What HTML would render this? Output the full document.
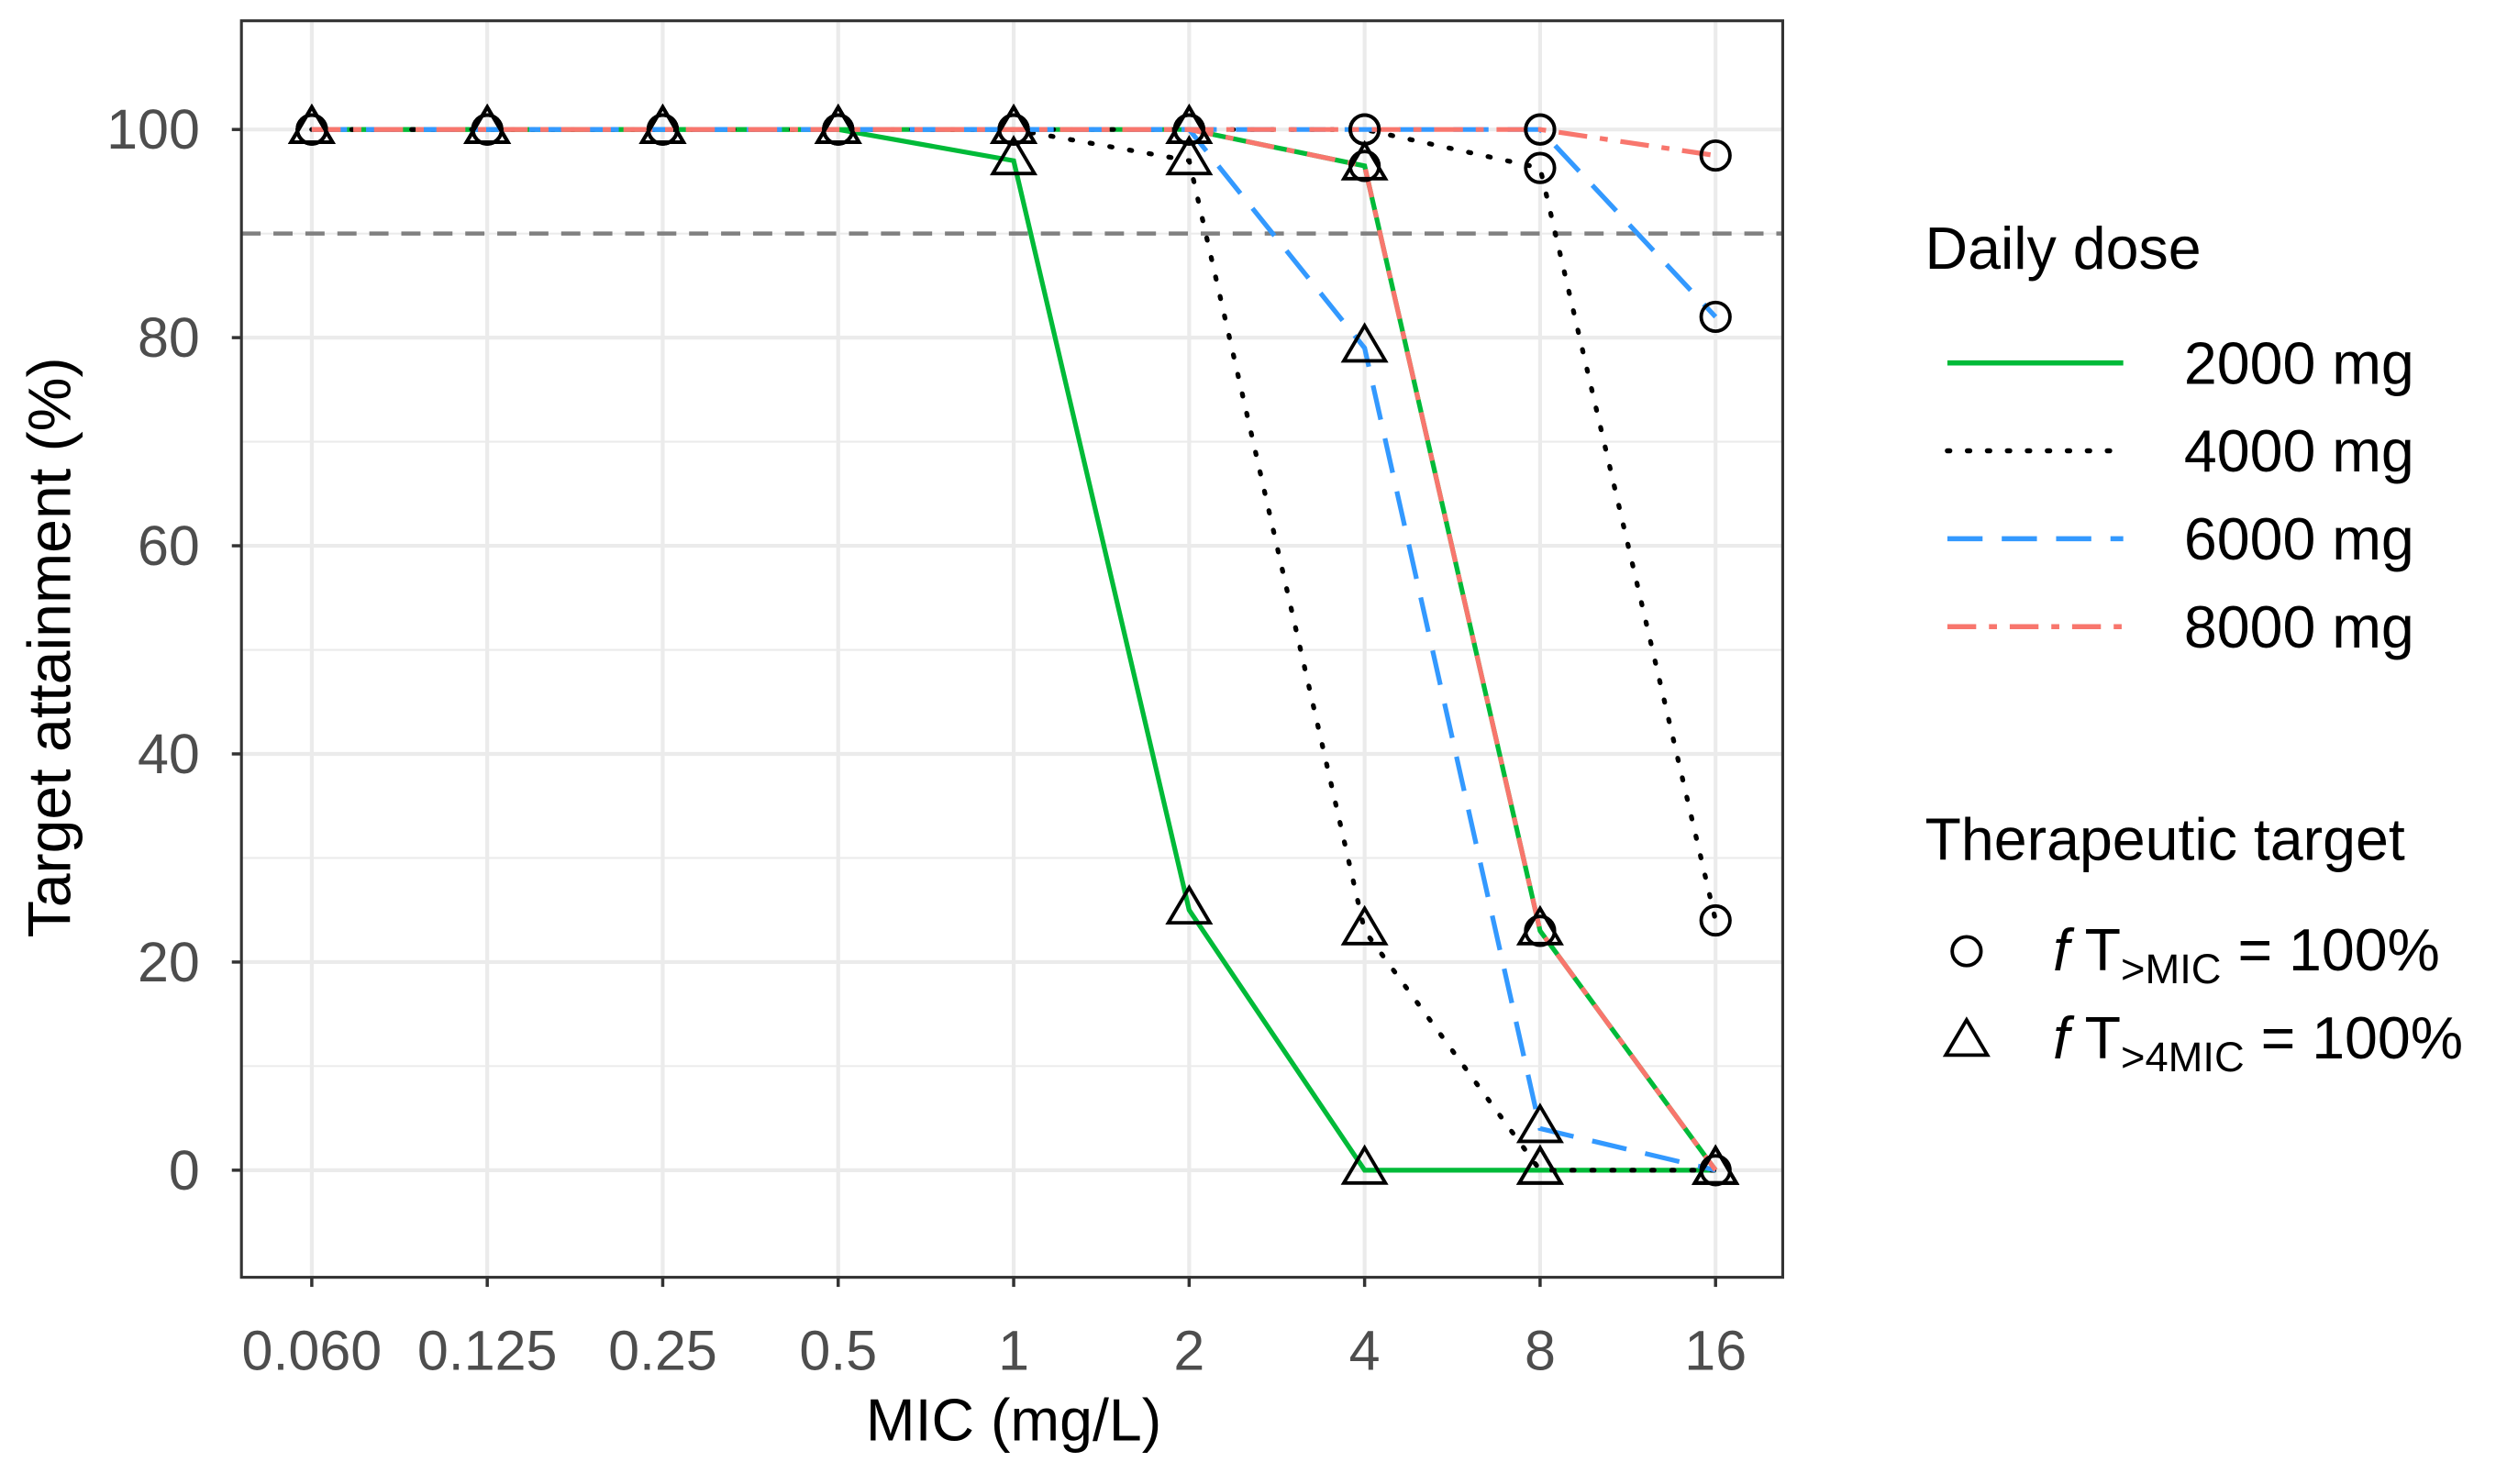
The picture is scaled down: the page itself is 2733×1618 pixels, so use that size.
<!DOCTYPE html>
<html><head><meta charset="utf-8"><style>
html,body{margin:0;padding:0;background:#fff;}
svg{display:block;font-family:"Liberation Sans",Arial,sans-serif;}
</style></head><body>
<svg id="chart" width="2733" height="1618" viewBox="0 0 1568 928.3" xmlns="http://www.w3.org/2000/svg">
<g id="grid"></g>
<g id="series"></g>
<g id="axes"></g>
<text x="0" y="0" transform="translate(44,405) rotate(-90)" text-anchor="middle" font-size="38" fill="#000">Target attainment (%)</text>
<text x="634" y="901" text-anchor="middle" font-size="37" fill="#000">MIC (mg/L)</text>
<g>
<text x="1204" y="168" font-size="37" fill="#000">Daily dose</text>
<line x1="1218" y1="227" x2="1328" y2="227" stroke="#00BA38" stroke-width="3.2"/>
<text x="1366" y="240" font-size="37">2000 mg</text>
<line x1="1218" y1="282" x2="1328" y2="282" stroke="#000" stroke-width="3.2" stroke-dasharray="1.5 11" stroke-linecap="round"/>
<text x="1366" y="295" font-size="37">4000 mg</text>
<line x1="1218" y1="337" x2="1328" y2="337" stroke="#3399FF" stroke-width="3.2" stroke-dasharray="22 12"/>
<text x="1366" y="350" font-size="37">6000 mg</text>
<line x1="1218" y1="392" x2="1328" y2="392" stroke="#F8766D" stroke-width="3.2" stroke-dasharray="18 8 5 8"/>
<text x="1366" y="405" font-size="37">8000 mg</text>
</g>
<g>
<text x="1204" y="538" font-size="37" fill="#000">Therapeutic target</text>
<circle cx="1230" cy="595" r="9" fill="none" stroke="#000" stroke-width="2.2"/>
<text x="1284" y="607" font-size="37"><tspan font-style="italic">f</tspan> T<tspan font-size="26" dy="8">&gt;MIC</tspan><tspan dy="-8"> = 100%</tspan></text>
<path d="M1230,638 L1243,660 L1217,660 Z" fill="none" stroke="#000" stroke-width="2.2"/>
<text x="1284" y="662" font-size="37"><tspan font-style="italic">f</tspan> T<tspan font-size="26" dy="8">&gt;4MIC</tspan><tspan dy="-8"> = 100%</tspan></text>
</g>
</svg>
<script>
const categories = ["0.060","0.125","0.25","0.5","1","2","4","8","16"];
const yTicks = [0,20,40,60,80,100];
const yMinor = [10,30,50,70,90];
const threshold = 90;
const circ2000 = [100,100,100,100,100,100,96.5,23,0];
const tri2000  = [100,100,100,100,97,25,0,0,0];
const circ4000 = [100,100,100,100,100,100,100,96.3,24];
const tri4000  = [100,100,100,100,100,97,23,0,0];
const circ6000 = [100,100,100,100,100,100,100,100,82];
const tri6000  = [100,100,100,100,100,100,79,4,0];
const circ8000 = [100,100,100,100,100,100,100,100,97.5];
const tri8000  = [100,100,100,100,100,100,96.5,23,0];

const NS="http://www.w3.org/2000/svg";
const L=151,R=1115,T=13,B=799;
const x=i=>195+i*109.75;
const y=v=>732-(v/100)*651;
function mk(tag,attrs,parent){const e=document.createElementNS(NS,tag);for(const k in attrs)e.setAttribute(k,attrs[k]);parent.appendChild(e);return e;}
const grid=document.getElementById('grid'),ser=document.getElementById('series'),ax=document.getElementById('axes');
for(const v of yMinor){const e=mk('line',{x1:L,x2:R,y1:y(v),y2:y(v),stroke:'#EBEBEB','stroke-width':1.2},grid);

}
for(const v of yTicks){const e=mk('line',{x1:L,x2:R,y1:y(v),y2:y(v),stroke:'#EBEBEB','stroke-width':2.4},grid);


const t=mk('text',{x:L-26,y:y(v)+12,'text-anchor':'end','font-size':35,fill:'#4D4D4D'},ax);t.textContent=v;


const k=mk('line',{x1:L-6,x2:L,y1:y(v),y2:y(v),stroke:'#333','stroke-width':2},ax);

}
categories.forEach((c,i)=>{const e=mk('line',{x1:x(i),x2:x(i),y1:T,y2:B,stroke:'#EBEBEB','stroke-width':2.4},grid);


const t=mk('text',{x:x(i),y:B+58,'text-anchor':'middle','font-size':35,fill:'#4D4D4D'},ax);t.textContent=c;


const k=mk('line',{x1:x(i),x2:x(i),y1:B,y2:B+6,stroke:'#333','stroke-width':2},ax);

});
const th=mk('line',{x1:L,x2:R,y1:y(threshold),y2:y(threshold),stroke:'#808080','stroke-width':2.6,'stroke-dasharray':'12 8'},grid);


const fr=mk('rect',{x:L,y:T,width:R-L,height:B-T,fill:'none',stroke:'#333','stroke-width':1.8},ax);


const styles={
 g:{stroke:'#00BA38','stroke-dasharray':'none'},
 k:{stroke:'#000','stroke-dasharray':'1.5 11','stroke-linecap':'round'},
 b:{stroke:'#3399FF','stroke-dasharray':'22 12'},
 r:{stroke:'#F8766D','stroke-dasharray':'18 8 5 8'}};
const lines=[[circ2000,'g','line-2000-mic'],[tri2000,'g','line-2000-4mic'],[circ4000,'k','line-4000-mic'],[tri4000,'k','line-4000-4mic'],[circ6000,'b','line-6000-mic'],[tri6000,'b','line-6000-4mic'],[circ8000,'r','line-8000-mic'],[tri8000,'r','line-8000-4mic']];
for(const [d,s,n] of lines){const p=mk('polyline',Object.assign({points:d.map((v,i)=>x(i)+','+y(v)).join(' '),fill:'none','stroke-width':3},styles[s]),ser);

}
const circs=[circ2000,circ4000,circ6000,circ8000],tris=[tri2000,tri4000,tri6000,tri8000];
for(const d of circs)d.forEach((v,i)=>{const c=mk('circle',{cx:x(i),cy:y(v),r:9,fill:'none',stroke:'#000','stroke-width':2.2},ser);

});
for(const d of tris)d.forEach((v,i)=>{const cx=x(i),cy=y(v);const p=mk('path',{d:`M${cx},${cy-14} L${cx+13},${cy+8} L${cx-13},${cy+8} Z`,fill:'none',stroke:'#000','stroke-width':2.2},ser);

});
</script>
</body></html>
